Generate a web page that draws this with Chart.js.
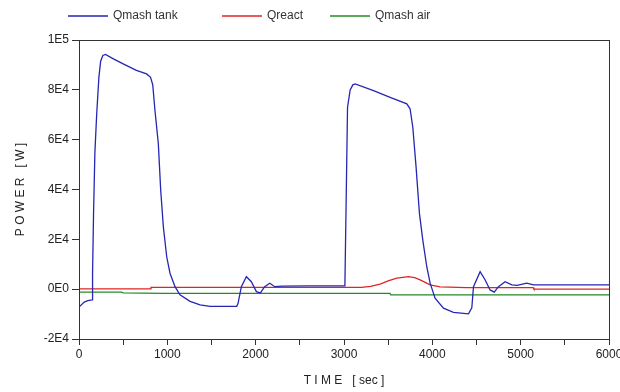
<!DOCTYPE html>
<html>
<head>
<meta charset="utf-8">
<script src="https://cdn.jsdelivr.net/npm/chart.js@4/dist/chart.umd.min.js"></script>
<style>
  body { margin: 0; background: #fff; }
  #box { width: 620px; height: 392px; }
</style>
</head>
<body>
<div id="box"><canvas id="grafico"></canvas></div>
<script>
// Qmash tank
const tankTime = [0, 60, 100, 150, 152, 155, 165, 180, 200, 225, 245, 270, 300, 390, 500, 650, 765, 810, 835, 860, 898, 925, 955, 993, 1030, 1087, 1143, 1257, 1370, 1483, 1785, 1800, 1838, 1895, 1951, 2008, 2053, 2102, 2160, 2217, 2300, 2600, 3010, 3015, 3025, 3040, 3070, 3100, 3126, 3334, 3522, 3711, 3748, 3779, 3816, 3854, 3892, 3937, 3975, 4031, 4126, 4239, 4409, 4447, 4466, 4541, 4598, 4654, 4700, 4749, 4824, 4900, 4960, 5069, 5145, 6000];
const tankPower = [-7200, -5200, -4600, -4300, -4300, 6400, 31000, 55000, 70000, 85000, 91500, 93800, 94200, 92400, 90400, 87800, 86400, 85000, 82000, 71700, 58400, 39700, 25000, 13000, 6400, 1000, -2300, -4900, -6300, -6900, -6900, -5800, 1000, 5000, 3000, -1000, -1500, 1000, 2400, 1000, 1200, 1300, 1300, 13000, 37000, 73000, 80000, 82000, 82400, 79700, 77000, 74400, 72400, 65000, 49000, 30400, 19700, 9000, 2400, -3600, -7600, -9300, -9900, -7500, 1000, 7000, 3700, -300, -1200, 1000, 3000, 1700, 1500, 2400, 1700, 1700];

// Qreact
const reactTime = [0, 810, 815, 3200, 3300, 3409, 3500, 3598, 3730, 3800, 3862, 3975, 4088, 4390, 5140, 5150, 6000];
const reactPower = [100, 100, 700, 700, 1100, 2000, 3300, 4400, 5000, 4600, 3700, 1700, 900, 650, 650, 0, 0];

// Qmash air
const airTime = [0, 480, 500, 950, 3070, 3520, 3530, 6000];
const airPower = [-1200, -1200, -1500, -1700, -1700, -1700, -2300, -2300];

const yTickValori = [-20000, 0, 20000, 40000, 60000, 80000, 100000];
const yTickTesti = ['-2E4', '0E0', '2E4', '4E4', '6E4', '8E4', '1E5'];

const nomi = ['Qmash tank', 'Qreact', 'Qmash air'];
const colori = ['#2626b4', '#e02424', '#248a24'];

function punti(tt, vv) {
  var out = [];
  for (var i = 0; i < tt.length; i++) out.push({x: tt[i], y: vv[i]});
  return out;
}

// legenda disegnata a mano, in alto a sinistra come nell'originale
const legenda = {
  id: 'legenda',
  afterDraw(chart) {
    const ctx = chart.ctx;
    const xs = [68, 222, 330];
    ctx.save();
    ctx.font = '12px "Liberation Sans", Arial, sans-serif';
    ctx.textBaseline = 'middle';
    for (var i = 0; i < nomi.length; i++) {
      ctx.strokeStyle = colori[i];
      ctx.lineWidth = 1.3;
      ctx.beginPath();
      ctx.moveTo(xs[i], 16);
      ctx.lineTo(xs[i] + 40, 16);
      ctx.stroke();
      ctx.fillStyle = '#333';
      ctx.fillText(nomi[i], xs[i] + 45, 16);
    }
    ctx.restore();
  }
};

const cornice = {
  id: 'cornice',
  afterDatasetsDraw(chart) {
    const a = chart.chartArea;
    const ctx = chart.ctx;
    ctx.save();
    ctx.strokeStyle = '#333';
    ctx.lineWidth = 1;
    ctx.strokeRect(a.left + 0.5, a.top + 0.5, a.right - a.left, a.bottom - a.top);
    ctx.restore();
  }
};

const fontTick = { family: '"Liberation Sans", Arial, sans-serif', size: 12 };

new Chart(document.getElementById('grafico'), {
  type: 'scatter',
  data: {
    datasets: [
      { label: nomi[0], data: punti(tankTime, tankPower), borderColor: colori[0] },
      { label: nomi[1], data: punti(reactTime, reactPower), borderColor: colori[1] },
      { label: nomi[2], data: punti(airTime, airPower), borderColor: colori[2] }
    ].map(function (d) {
      d.showLine = true;
      d.borderWidth = 1.3;
      d.pointRadius = 0;
      d.tension = 0;
      d.backgroundColor = d.borderColor;
      return d;
    })
  },
  options: {
    responsive: true,
    maintainAspectRatio: false,
    animation: false,
    layout: { padding: { top: 40, right: 11, left: 0, bottom: 0 } },
    plugins: { legend: { display: false }, tooltip: { enabled: false } },
    scales: {
      x: {
        type: 'linear',
        min: 0, max: 6000,
        border: { display: true, color: '#333' },
        grid: { drawOnChartArea: false, tickLength: 6, color: '#333' },
        ticks: {
          stepSize: 500, maxRotation: 0, autoSkip: false, padding: 2,
          color: '#222', font: fontTick,
          callback: function (v) { return v % 1000 === 0 ? String(v) : ''; }
        },
        title: { display: true, text: 'T I M E   [ sec ]', color: '#222', font: fontTick, padding: { top: 0, bottom: 4 } },
        afterFit: function (s) { s.height = 53; s.paddingLeft = 0; s.paddingRight = 0; }
      },
      y: {
        min: -20000, max: 100000,
        border: { display: true, color: '#333' },
        grid: { drawOnChartArea: false, tickLength: 7, color: '#333' },
        afterBuildTicks: function (s) { s.ticks = yTickValori.map(function (v) { return {value: v}; }); },
        ticks: {
          color: '#222', font: fontTick, padding: 3,
          callback: function (v) { return yTickTesti[yTickValori.indexOf(v)]; }
        },
        title: { display: true, text: 'P O W E R   [ W ]', color: '#222', font: fontTick, padding: { top: 13, bottom: 0 } },
        afterFit: function (s) { s.width = 79; s.paddingTop = 0; s.paddingBottom = 0; }
      }
    }
  },
  plugins: [legenda, cornice]
});
</script>
</body>
</html>
